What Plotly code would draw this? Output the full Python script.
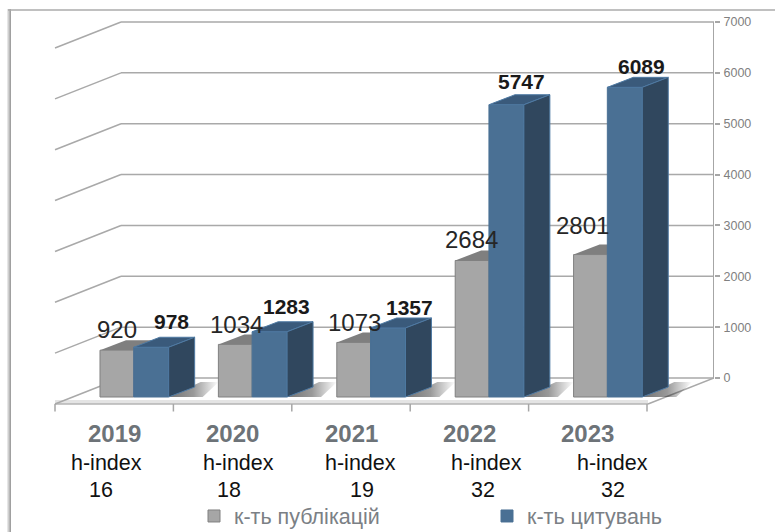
import plotly.graph_objects as go

# ---- data ----
years = ["2019", "2020", "2021", "2022", "2023"]
h_index = ["16", "18", "19", "32", "32"]
publications = [920, 1034, 1073, 2684, 2801]
citations = [978, 1283, 1357, 5747, 6089]
y_ticks = [0, 1000, 2000, 3000, 4000, 5000, 6000, 7000]
name_pub = "к-ть публікацій"
name_cit = "к-ть цитувань"

# ---- geometry of the pseudo-3D scene (pixels) ----
W, H = 775, 532
X0, STEP = 55.0, 118.4      # front edge of floor, category width
Y0, PX_PER_UNIT = 378.0, 356.0 / 7000   # back-wall baseline, scale
WALL_DX, WALL_DY = 66.0, 26.0
BAR_BOTTOM = 397.0
BAR_DX, BAR_DY = 26.0, 10.0
RIGHT = 714.0

def ux(px):
    return (px - X0) / STEP

def vy(py):
    return (Y0 - py) / PX_PER_UNIT

def py_of(v):
    return Y0 - v * PX_PER_UNIT

def path(points):
    return "M " + " L ".join(f"{ux(a):.4f},{vy(b):.2f}" for a, b in points) + " Z"

GREY, GREY_TOP, GREY_EDGE = "#a6a6a6", "#7f7f7f", "#808080"
BLUE, BLUE_TOP, BLUE_SIDE, BLUE_EDGE = "#4a7094", "#3a5a7b", "#30475e", "#4f7aa3"
GRID = "#a9a9a9"

shapes = []

def poly(points, fill, line=None, width=0, opacity=1.0):
    shapes.append(dict(type="path", path=path(points), xref="x", yref="y", layer="below",
                       fillcolor=fill, opacity=opacity,
                       line=dict(color=line or fill, width=width)))

def seg(x1, y1, x2, y2, color=GRID, width=1.5):
    shapes.append(dict(type="line", x0=ux(x1), y0=vy(y1), x1=ux(x2), y1=vy(y2), xref="x", yref="y",
                       layer="below", line=dict(color=color, width=width)))

# outer frame
for x, c in [(7.5, "#e6e6e6"), (8.5, "#d0d0d0"), (9.5, "#b8b8b8"), (10.5, "#a0a0a0")]:
    shapes.append(dict(type="line", xref="paper", yref="paper", x0=x / W, x1=x / W, y0=0,
                       y1=1 - 9 / H, layer="below", line=dict(color=c, width=1)))
shapes.append(dict(type="line", xref="paper", yref="paper", x0=8 / W, x1=1, y0=1 - 10 / H,
                   y1=1 - 10 / H, layer="below", line=dict(color="#ababab", width=1.5)))

# floor
poly([(X0, 400), (X0, 404), (RIGHT - WALL_DX, 404), (RIGHT - WALL_DX, 400)], "#e4e4e4")
seg(X0, 404, RIGHT - WALL_DX, 404, "#b5b5b5", 1.5)

# walls / gridlines
for t in y_ticks:
    p = py_of(t)
    seg(X0, p + WALL_DY, X0 + WALL_DX, p)
    seg(X0 + WALL_DX, p, RIGHT, p)
seg(RIGHT, py_of(0), RIGHT - WALL_DX, Y0 + WALL_DY)
seg(RIGHT, py_of(7000), RIGHT, py_of(0), "#a6a6a6", 2)
for i in range(len(years) + 1):
    x = X0 + STEP * i
    seg(x, 404, x, 411.5, "#a6a6a6", 1.5)

# tops of the grey bars (kept under the blue fronts)
for i, v in enumerate(publications):
    a = X0 + STEP * (i + 0.38)
    b = X0 + STEP * (i + 0.665)
    t = BAR_BOTTOM - v * PX_PER_UNIT
    poly([(a, t), (a + BAR_DX, t - BAR_DY), (b + BAR_DX, t - BAR_DY), (b, t)], GREY_TOP)

fig = go.Figure()
base = vy(BAR_BOTTOM)
idx = list(range(len(years)))
fig.add_bar(x=idx, y=publications, base=base, offset=0.38, width=0.285, name=name_pub,
            marker=dict(color=GREY, line=dict(color=GREY_EDGE, width=1)), cliponaxis=False)
fig.add_bar(x=idx, y=citations, base=base, offset=0.665, width=0.295, name=name_cit,
            marker=dict(color=BLUE, line=dict(color=BLUE, width=1)), cliponaxis=False)

# soft shadows on the floor, beside each bar
for i in range(len(years)):
    xr = X0 + STEP * (i + 0.96)
    pts = [(xr, BAR_BOTTOM), (xr + BAR_DX + 6, BAR_BOTTOM - BAR_DY - 5),
           (xr + BAR_DX + 24, BAR_BOTTOM - BAR_DY - 5), (xr + 34, BAR_BOTTOM), (xr, BAR_BOTTOM)]
    fig.add_scatter(x=[ux(p[0]) for p in pts], y=[vy(p[1]) for p in pts], mode="lines",
                    fill="toself", line=dict(width=0), showlegend=False, hoverinfo="skip",
                    fillgradient=dict(type="horizontal",
                                      colorscale=[[0, "rgba(0,0,0,0.55)"], [0.5, "rgba(0,0,0,0.4)"],
                                                  [1, "rgba(0,0,0,0)"]]))

# top and side faces of the blue bars
for i, v in enumerate(citations):
    a = X0 + STEP * (i + 0.665)
    b = X0 + STEP * (i + 0.96)
    t = BAR_BOTTOM - v * PX_PER_UNIT
    top = [(a, t), (a + BAR_DX, t - BAR_DY), (b + BAR_DX, t - BAR_DY), (b, t), (a, t)]
    side = [(b, t), (b + BAR_DX, t - BAR_DY), (b + BAR_DX, BAR_BOTTOM - BAR_DY), (b, BAR_BOTTOM), (b, t)]
    for pts, col in [(top, BLUE_TOP), (side, BLUE_SIDE)]:
        fig.add_scatter(x=[ux(p[0]) for p in pts], y=[vy(p[1]) for p in pts], mode="lines",
                        fill="toself", fillcolor=col, line=dict(color=BLUE_EDGE, width=1),
                        showlegend=False, hoverinfo="skip")

annotations = []

def label(x_px, y_px, text, size, color, bold=False):
    annotations.append(dict(x=ux(x_px), y=vy(y_px), xref="x", yref="y", text=f"<b>{text}</b>" if bold else text,
                            showarrow=False, xanchor="center", yanchor="middle",
                            font=dict(family="Liberation Sans", size=size, color=color)))

# value labels: horizontal shift from the bar pair, lift above the bar top (pixels)
pub_dx = [17, 18.5, 18, 16.5, 9]
pub_lift = [21, 20, 20, 21, 29]
cit_dx = [3, -1, 4.5, -2, -1]
cit_lift = [26, 25, 20, 23, 21]
for i, (p, c) in enumerate(zip(publications, citations)):
    left = X0 + STEP * (i + 0.38)
    right = X0 + STEP * (i + 0.96)
    label(left + pub_dx[i], BAR_BOTTOM - p * PX_PER_UNIT - pub_lift[i], str(p), 24, "#262626")
    label(right + cit_dx[i], BAR_BOTTOM - c * PX_PER_UNIT - cit_lift[i], str(c), 21, "#1a1a1a", True)

# category labels
h_label_dx = [-8, 6, 9, 17, 25]
h_value_dx = [-13, -4, 11, 14, 25]
for i, (yr, h) in enumerate(zip(years, h_index)):
    c = X0 + STEP * (i + 0.5)
    label(c, 433, yr, 24, "#6d7378", True)
    label(c + h_label_dx[i], 463, "h-index", 21.5, "#111111")
    label(c + h_value_dx[i], 490, h, 21.5, "#111111")

fig.update_layout(
    width=W, height=H, margin=dict(l=0, r=0, t=0, b=0, autoexpand=False),
    paper_bgcolor="white", plot_bgcolor="white", barmode="overlay",
    shapes=shapes, annotations=annotations,
    showlegend=True,
    legend=dict(orientation="h", x=194 / W, xanchor="left", y=(H - 516) / H, yanchor="middle",
                entrywidth=248, entrywidthmode="pixels", traceorder="normal",
                bgcolor="rgba(0,0,0,0)",
                font=dict(family="Liberation Sans", size=21.5, color="#7b8085")),
    xaxis=dict(domain=[0, RIGHT / W], range=[ux(0), ux(RIGHT)], visible=False, fixedrange=True),
    yaxis=dict(domain=[0, 1], range=[vy(H), vy(0)], side="right", showgrid=False, zeroline=False,
               showline=False, tickmode="array", tickvals=y_ticks, ticks="outside", ticklen=5,
               tickwidth=1.5, tickcolor="#a6a6a6", ticklabelstandoff=1,
               tickfont=dict(family="Liberation Sans", size=12.5, color="#808080"), fixedrange=True),
)

fig.write_html("out.html", config={"displayModeBar": False},
               post_script="document.body.style.margin='0';")
